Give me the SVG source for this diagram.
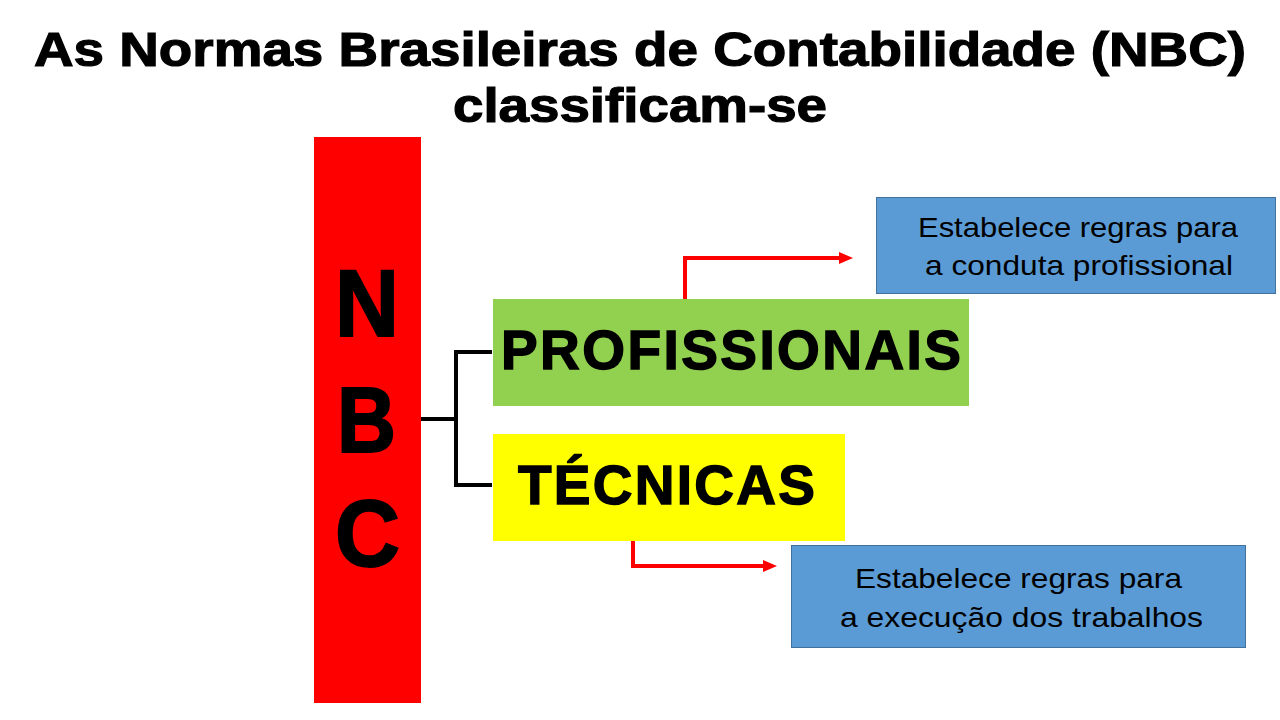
<svg xmlns="http://www.w3.org/2000/svg" width="1280" height="720" viewBox="0 0 1280 720">
<defs>
<style>
.title{font-family:"Liberation Sans",Arial,sans-serif;font-weight:bold;font-size:49px;fill:#000;stroke:#000;stroke-width:1.2}
.big{font-family:"Liberation Sans",Arial,sans-serif;font-weight:bold;fill:#000;stroke:#000}
.desc{font-family:"Liberation Sans",Arial,sans-serif;font-size:28px;fill:#000}
.blue{fill:#5b9bd5;stroke:#41719c;stroke-width:1}
.blk{fill:none;stroke:#000;stroke-width:4}
.red{fill:none;stroke:#ff0000;stroke-width:4}
</style>
<marker id="ah" markerWidth="14" markerHeight="12" refX="2" refY="6" orient="auto" markerUnits="userSpaceOnUse" viewBox="0 0 14 12">
<path d="M0,0 L14,6 L0,12 z" fill="#ff0000"/>
</marker>
</defs>
<rect width="1280" height="720" fill="#fff"/>
<g id="title">
<text class="title" x="34" y="66" textLength="1212" lengthAdjust="spacingAndGlyphs">As Normas Brasileiras de Contabilidade (NBC)</text>
<text class="title" x="453" y="122" textLength="374" lengthAdjust="spacingAndGlyphs">classificam-se</text>
</g>
<g id="connectors">
<path class="blk" d="M421,419 H456 M456,352 V487 M454,352 H492 M454,485 H492"/>
<path class="red" d="M685,300 V258 H841" marker-end="url(#ah)"/>
<path class="red" d="M633,540 V566 H765" marker-end="url(#ah)"/>
</g>
<g id="nbc">
<rect x="314" y="137" width="107" height="566" fill="#ff0000"/>
<text class="big" x="335" y="336" font-size="94" stroke-width="2" textLength="64" lengthAdjust="spacingAndGlyphs">N</text>
<text class="big" x="337" y="452" font-size="92" stroke-width="2" textLength="59" lengthAdjust="spacingAndGlyphs">B</text>
<text class="big" x="335" y="566" font-size="94" stroke-width="2" textLength="65" lengthAdjust="spacingAndGlyphs">C</text>
</g>
<g id="profissionais">
<rect x="493" y="299" width="476" height="107" fill="#92d050"/>
<text class="big" x="501" y="369" font-size="55" stroke-width="1.4" textLength="460" lengthAdjust="spacing">PROFISSIONAIS</text>
</g>
<g id="tecnicas">
<rect x="493" y="434" width="352" height="107" fill="#ffff00"/>
<text class="big" x="518" y="504" font-size="55" stroke-width="1.4" textLength="297" lengthAdjust="spacing">TÉCNICAS</text>
</g>
<g id="desc1">
<rect class="blue" x="876.5" y="197.5" width="399" height="96"/>
<text class="desc" x="918" y="237" textLength="320" lengthAdjust="spacingAndGlyphs">Estabelece regras para</text>
<text class="desc" x="925" y="275" textLength="308" lengthAdjust="spacingAndGlyphs">a conduta profissional</text>
</g>
<g id="desc2">
<rect class="blue" x="791.5" y="545.5" width="454" height="102"/>
<text class="desc" x="855" y="588" textLength="327" lengthAdjust="spacingAndGlyphs">Estabelece regras para</text>
<text class="desc" x="840" y="627" textLength="363" lengthAdjust="spacingAndGlyphs">a execução dos trabalhos</text>
</g>
</svg>
